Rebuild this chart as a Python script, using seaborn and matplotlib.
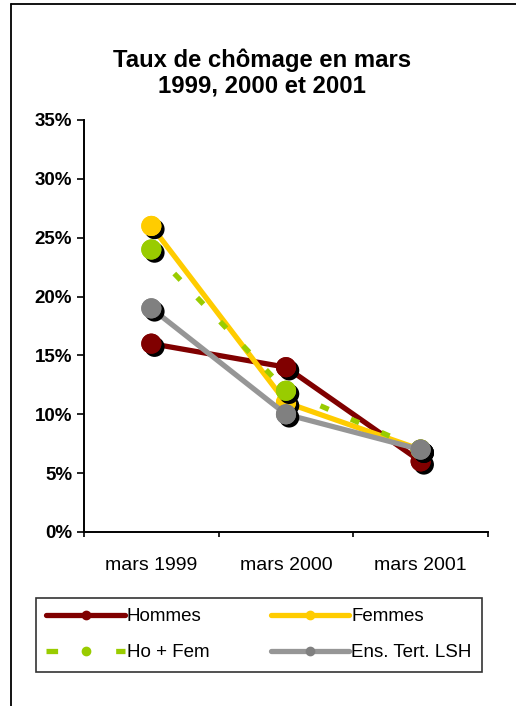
import matplotlib
matplotlib.use("Agg")
import matplotlib.pyplot as plt
import matplotlib.patheffects as pe
from matplotlib.lines import Line2D
import seaborn as sns
import pandas as pd

# Données : taux de chômage (%) en mars
periodes = ["mars 1999", "mars 2000", "mars 2001"]
hommes = [16, 14, 6]
femmes = [26, 11, 7]
ho_fem = [24, 12, 7]
ens_tert_lsh = [19, 10, 7]
noms_series = ["Hommes", "Femmes", "Ho + Fem", "Ens. Tert. LSH"]
graduations_y = [0, 5, 10, 15, 20, 25, 30, 35]
titre = "Taux de chômage en mars\n1999, 2000 et 2001"

sns.set_style("white")
plt.rcParams["font.family"] = ["Liberation Sans", "DejaVu Sans"]
for cle in ["text.color", "axes.labelcolor", "xtick.color", "ytick.color"]:
    plt.rcParams[cle] = "black"

df = pd.DataFrame({
    "periode": periodes * 4,
    "taux": hommes + femmes + ho_fem + ens_tert_lsh,
    "serie": [n for n in noms_series for _ in periodes],
})

# style de chaque série : couleur de ligne, couleur de marqueur, tirets
styles = {
    "Hommes": dict(line="#800000", mark="#800000", dashes=None),
    "Femmes": dict(line="#FFCC00", mark="#FFCC00", dashes=None),
    "Ho + Fem": dict(line="#99CC00", mark="#99CC00", dashes=(1.7, 4.6)),
    "Ens. Tert. LSH": dict(line="#969696", mark="#808080", dashes=None),
}

fig = plt.figure(figsize=(5.16, 7.06), dpi=100)
ax = fig.add_axes([84 / 516, 1 - 532 / 706, 404 / 516, 412 / 706])

ombre = [pe.withSimplePatchShadow(offset=(2.3, -2.3), shadow_rgbFace="black", alpha=1.0), pe.Normal()]

z = 2
for nom in noms_series:
    st = styles[nom]
    sub = df[df["serie"] == nom]
    sns.lineplot(data=sub, x="periode", y="taux", ax=ax, color=st["line"],
                 linewidth=3.8, sort=False, legend=False, zorder=z)
    ligne = ax.lines[-1]
    if st["dashes"] is not None:
        ligne.set_dashes(st["dashes"])
        ligne.set_dash_capstyle("butt")
    sns.scatterplot(data=sub, x="periode", y="taux", ax=ax, color=st["mark"],
                    s=210, linewidth=0, legend=False, zorder=z + 1)
    ax.collections[-1].set_path_effects(ombre)
    z += 2

ax.set_xlim(-0.5, 2.5)
ax.set_ylim(0, 35)
ax.set_yticks(graduations_y)
ax.set_yticklabels([f"{v}%" for v in graduations_y], fontweight="bold", fontsize=13.5)
ax.set_xticks([-0.5, 0.5, 1.5, 2.5])
ax.set_xticklabels([""] * 4)
ax.set_xticks([0, 1, 2], minor=True)
ax.set_xticklabels(periodes, minor=True, fontsize=14)
ax.set_xlabel("")
ax.set_ylabel("")
for cote in ["top", "right"]:
    ax.spines[cote].set_visible(False)
for cote in ["left", "bottom"]:
    ax.spines[cote].set_color("black")
    ax.spines[cote].set_linewidth(1.4)
ax.tick_params(axis="y", which="major", left=True, length=5, width=1.2, color="black", pad=3.5)
ax.tick_params(axis="x", which="major", bottom=True, length=3.5, width=1.2, color="black")
ax.tick_params(axis="x", which="minor", bottom=True, length=0, pad=18)

fig.text(262 / 516, 1 - 73 / 706, titre, ha="center", va="center",
         fontsize=17.2, fontweight="bold", linespacing=1.15)

# légende (remplie par colonnes : Hommes / Ho + Fem puis Femmes / Ens. Tert. LSH)
poignees = {}
for nom in noms_series:
    st = styles[nom]
    if st["dashes"] is None:
        h = Line2D([0], [0], color=st["line"], linewidth=3.8, solid_capstyle="round",
                   marker="o", markersize=6, markerfacecolor=st["mark"],
                   markeredgecolor=st["mark"])
    else:
        h = Line2D([0], [0], color=st["line"], linewidth=3.8, dashes=(2.2, 11),
                   dash_capstyle="butt", marker="o", markersize=6,
                   markerfacecolor=st["mark"], markeredgecolor=st["mark"])
    poignees[nom] = h
ordre = ["Hommes", "Ho + Fem", "Femmes", "Ens. Tert. LSH"]

leg = ax.legend([poignees[n] for n in ordre], ordre, ncol=2, loc="upper left",
                bbox_to_anchor=(36 / 516, 1 - 598 / 706), bbox_transform=fig.transFigure,
                borderaxespad=0, fontsize=13.5, handlelength=4.2, handletextpad=0.1,
                columnspacing=3.25, fancybox=False, frameon=True, borderpad=0.55,
                labelspacing=1.0, numpoints=1)
leg.get_frame().set_edgecolor("black")
leg.get_frame().set_linewidth(1.2)

# cadre de la zone du graphique
fig.add_artist(Line2D([10.5 / 516, 10.5 / 516], [0, 1 - 4 / 706], color="black", linewidth=1.3))
fig.add_artist(Line2D([10.5 / 516, 1], [1 - 4 / 706, 1 - 4 / 706], color="black", linewidth=1.3))

fig.savefig("out.png", dpi=100)
